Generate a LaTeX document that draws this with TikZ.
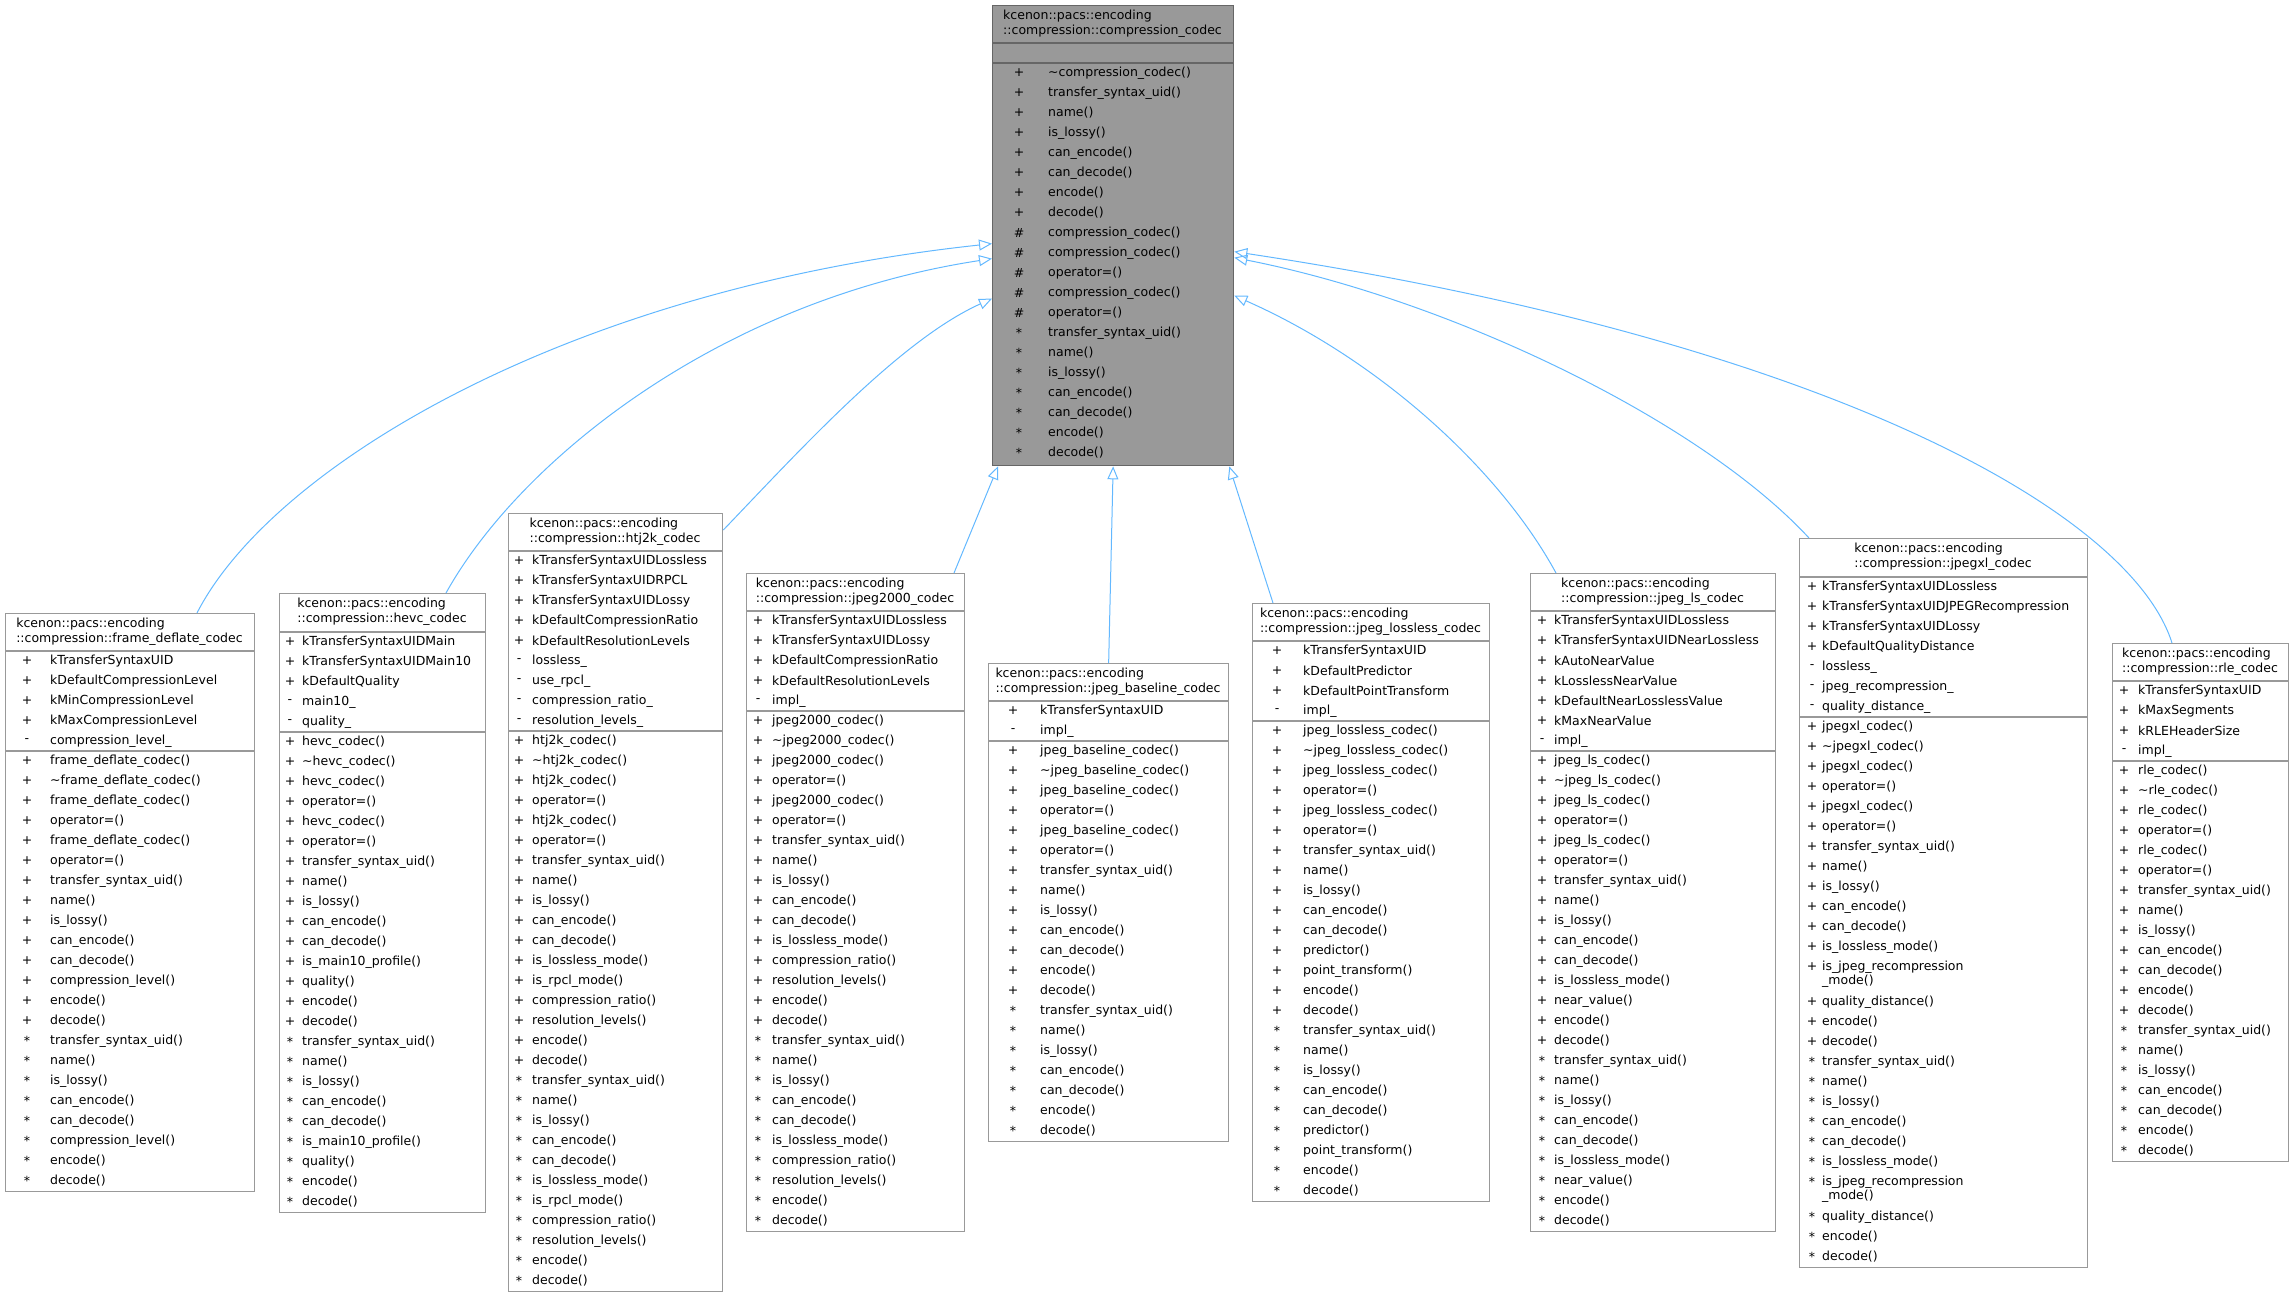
\documentclass[tikz,border=0pt]{standalone}
\usepackage{fontspec}
\setmainfont{DejaVu Sans}
\usepackage{tikz}
\usetikzlibrary{arrows.meta,positioning}

\definecolor{edgeblue}{HTML}{63B8FF}
\definecolor{boxgray}{HTML}{999999}
\newcommand{\tild}{\textasciitilde}
\newcommand{\memberrows}[5]{%
  \foreach[count=\i] \s/\t in {#5}{
    \node[symcell] (#1\i) at ({#2},{#4+\i*20-10}) {\s};
    \node[txtcell] (#1\i t) at ({#3},{#4+\i*20-10}) {\t};
  }}

\tikzset{
  classbox/.style={draw=boxgray, line width=1.3pt, fill=white, anchor=north west, inner sep=0pt},
  basebox/.style={classbox, draw=black!60, fill=boxgray},
  classtitle/.style={align=left, inner sep=0pt, font=\fontsize{12.5}{14.7}\selectfont},
  symcell/.style={inner sep=0pt, font=\fontsize{12.5}{14}\selectfont},
  txtcell/.style={anchor=west, inner sep=0pt, font=\fontsize{12.5}{14}\selectfont},
  sep/.style={draw=boxgray, line width=1.3pt},
  inherit/.style={draw=edgeblue, line width=1pt, -{Triangle[open, length=13pt, width=11pt]}}
}

\begin{document}
\begin{tikzpicture}[x=1pt, y=-1pt]
\useasboundingbox (0,0) rectangle (2292,1299);

% base class
\node[basebox, minimum width=241pt, minimum height=460pt] (base) at (992,5) {};
\node[classtitle] (base-t) at (1112.5,24) {kcenon::pacs::encoding\\::compression::compression\_codec};
\draw[sep, draw=black!60] (992,43) -- (1233,43);
\draw[sep, draw=black!60] (992,63) -- (1233,63);
\memberrows{base-m}{1019}{1048}{63}{+/\tild compression\_codec(), +/transfer\_syntax\_uid(), +/name(), +/is\_lossy(), +/can\_encode(), +/can\_decode(), +/encode(), +/decode(), \#/compression\_codec(), \#/compression\_codec(), \#/operator=(), \#/compression\_codec(), \#/operator=(), */transfer\_syntax\_uid(), */name(), */is\_lossy(), */can\_encode(), */can\_decode(), */encode(), */decode()}

% frame_deflate_codec
\node[classbox, minimum width=249pt, minimum height=578pt] (fd) at (5,613) {};
\node[classtitle] (fd-t) at (129.5,632) {kcenon::pacs::encoding\\::compression::frame\_deflate\_codec};
\draw[sep] (5,651) -- (254,651);
\memberrows{fd-a}{27}{50}{651}{+/kTransferSyntaxUID, +/kDefaultCompressionLevel, +/kMinCompressionLevel, +/kMaxCompressionLevel, -/compression\_level\_}
\draw[sep] (5,751) -- (254,751);
\memberrows{fd-m}{27}{50}{751}{+/frame\_deflate\_codec(), +/\tild frame\_deflate\_codec(), +/frame\_deflate\_codec(), +/operator=(), +/frame\_deflate\_codec(), +/operator=(), +/transfer\_syntax\_uid(), +/name(), +/is\_lossy(), +/can\_encode(), +/can\_decode(), +/compression\_level(), +/encode(), +/decode(), */transfer\_syntax\_uid(), */name(), */is\_lossy(), */can\_encode(), */can\_decode(), */compression\_level(), */encode(), */decode()}

% hevc_codec
\node[classbox, minimum width=206pt, minimum height=619pt] (hevc) at (279,593) {};
\node[classtitle] (hevc-t) at (382,612) {kcenon::pacs::encoding\\::compression::hevc\_codec};
\draw[sep] (279,632) -- (485,632);
\memberrows{hevc-a}{290}{302}{632}{+/kTransferSyntaxUIDMain, +/kTransferSyntaxUIDMain10, +/kDefaultQuality, -/main10\_, -/quality\_}
\draw[sep] (279,732) -- (485,732);
\memberrows{hevc-m}{290}{302}{732}{+/hevc\_codec(), +/\tild hevc\_codec(), +/hevc\_codec(), +/operator=(), +/hevc\_codec(), +/operator=(), +/transfer\_syntax\_uid(), +/name(), +/is\_lossy(), +/can\_encode(), +/can\_decode(), +/is\_main10\_profile(), +/quality(), +/encode(), +/decode(), */transfer\_syntax\_uid(), */name(), */is\_lossy(), */can\_encode(), */can\_decode(), */is\_main10\_profile(), */quality(), */encode(), */decode()}

% htj2k_codec
\node[classbox, minimum width=214pt, minimum height=778pt] (htj) at (508,513) {};
\node[classtitle] (htj-t) at (615,532) {kcenon::pacs::encoding\\::compression::htj2k\_codec};
\draw[sep] (508,551) -- (722,551);
\memberrows{htj-a}{519}{532}{551}{+/kTransferSyntaxUIDLossless, +/kTransferSyntaxUIDRPCL, +/kTransferSyntaxUIDLossy, +/kDefaultCompressionRatio, +/kDefaultResolutionLevels, -/lossless\_, -/use\_rpcl\_, -/compression\_ratio\_, -/resolution\_levels\_}
\draw[sep] (508,731) -- (722,731);
\memberrows{htj-m}{519}{532}{731}{+/htj2k\_codec(), +/\tild htj2k\_codec(), +/htj2k\_codec(), +/operator=(), +/htj2k\_codec(), +/operator=(), +/transfer\_syntax\_uid(), +/name(), +/is\_lossy(), +/can\_encode(), +/can\_decode(), +/is\_lossless\_mode(), +/is\_rpcl\_mode(), +/compression\_ratio(), +/resolution\_levels(), +/encode(), +/decode(), */transfer\_syntax\_uid(), */name(), */is\_lossy(), */can\_encode(), */can\_decode(), */is\_lossless\_mode(), */is\_rpcl\_mode(), */compression\_ratio(), */resolution\_levels(), */encode(), */decode()}

% jpeg2000_codec
\node[classbox, minimum width=218pt, minimum height=658pt] (j2k) at (746,573) {};
\node[classtitle] (j2k-t) at (855,592) {kcenon::pacs::encoding\\::compression::jpeg2000\_codec};
\draw[sep] (746,611) -- (964,611);
\memberrows{j2k-a}{758}{772}{611}{+/kTransferSyntaxUIDLossless, +/kTransferSyntaxUIDLossy, +/kDefaultCompressionRatio, +/kDefaultResolutionLevels, -/impl\_}
\draw[sep] (746,711) -- (964,711);
\memberrows{j2k-m}{758}{772}{711}{+/jpeg2000\_codec(), +/\tild jpeg2000\_codec(), +/jpeg2000\_codec(), +/operator=(), +/jpeg2000\_codec(), +/operator=(), +/transfer\_syntax\_uid(), +/name(), +/is\_lossy(), +/can\_encode(), +/can\_decode(), +/is\_lossless\_mode(), +/compression\_ratio(), +/resolution\_levels(), +/encode(), +/decode(), */transfer\_syntax\_uid(), */name(), */is\_lossy(), */can\_encode(), */can\_decode(), */is\_lossless\_mode(), */compression\_ratio(), */resolution\_levels(), */encode(), */decode()}

% jpeg_baseline_codec
\node[classbox, minimum width=240pt, minimum height=478pt] (jb) at (988,663) {};
\node[classtitle] (jb-t) at (1108,682) {kcenon::pacs::encoding\\::compression::jpeg\_baseline\_codec};
\draw[sep] (988,701) -- (1228,701);
\memberrows{jb-a}{1013}{1040}{701}{+/kTransferSyntaxUID, -/impl\_}
\draw[sep] (988,741) -- (1228,741);
\memberrows{jb-m}{1013}{1040}{741}{+/jpeg\_baseline\_codec(), +/\tild jpeg\_baseline\_codec(), +/jpeg\_baseline\_codec(), +/operator=(), +/jpeg\_baseline\_codec(), +/operator=(), +/transfer\_syntax\_uid(), +/name(), +/is\_lossy(), +/can\_encode(), +/can\_decode(), +/encode(), +/decode(), */transfer\_syntax\_uid(), */name(), */is\_lossy(), */can\_encode(), */can\_decode(), */encode(), */decode()}

% jpeg_lossless_codec
\node[classbox, minimum width=237pt, minimum height=598pt] (jll) at (1252,603) {};
\node[classtitle] (jll-t) at (1370.5,622) {kcenon::pacs::encoding\\::compression::jpeg\_lossless\_codec};
\draw[sep] (1252,641) -- (1489,641);
\memberrows{jll-a}{1277}{1303}{641}{+/kTransferSyntaxUID, +/kDefaultPredictor, +/kDefaultPointTransform, -/impl\_}
\draw[sep] (1252,721) -- (1489,721);
\memberrows{jll-m}{1277}{1303}{721}{+/jpeg\_lossless\_codec(), +/\tild jpeg\_lossless\_codec(), +/jpeg\_lossless\_codec(), +/operator=(), +/jpeg\_lossless\_codec(), +/operator=(), +/transfer\_syntax\_uid(), +/name(), +/is\_lossy(), +/can\_encode(), +/can\_decode(), +/predictor(), +/point\_transform(), +/encode(), +/decode(), */transfer\_syntax\_uid(), */name(), */is\_lossy(), */can\_encode(), */can\_decode(), */predictor(), */point\_transform(), */encode(), */decode()}

% jpeg_ls_codec
\node[classbox, minimum width=245pt, minimum height=658pt] (jls) at (1530,573) {};
\node[classtitle] (jls-t) at (1652.5,592) {kcenon::pacs::encoding\\::compression::jpeg\_ls\_codec};
\draw[sep] (1530,611) -- (1775,611);
\memberrows{jls-a}{1542}{1554}{611}{+/kTransferSyntaxUIDLossless, +/kTransferSyntaxUIDNearLossless, +/kAutoNearValue, +/kLosslessNearValue, +/kDefaultNearLosslessValue, +/kMaxNearValue, -/impl\_}
\draw[sep] (1530,751) -- (1775,751);
\memberrows{jls-m}{1542}{1554}{751}{+/jpeg\_ls\_codec(), +/\tild jpeg\_ls\_codec(), +/jpeg\_ls\_codec(), +/operator=(), +/jpeg\_ls\_codec(), +/operator=(), +/transfer\_syntax\_uid(), +/name(), +/is\_lossy(), +/can\_encode(), +/can\_decode(), +/is\_lossless\_mode(), +/near\_value(), +/encode(), +/decode(), */transfer\_syntax\_uid(), */name(), */is\_lossy(), */can\_encode(), */can\_decode(), */is\_lossless\_mode(), */near\_value(), */encode(), */decode()}

% jpegxl_codec
\node[classbox, minimum width=288pt, minimum height=729pt] (jxl) at (1799,538) {};
\node[classtitle] (jxl-t) at (1943,557) {kcenon::pacs::encoding\\::compression::jpegxl\_codec};
\draw[sep] (1799,577) -- (2087,577);
\memberrows{jxl-a}{1812}{1822}{577}{+/kTransferSyntaxUIDLossless, +/kTransferSyntaxUIDJPEGRecompression, +/kTransferSyntaxUIDLossy, +/kDefaultQualityDistance, -/lossless\_, -/jpeg\_recompression\_, -/quality\_distance\_}
\draw[sep] (1799,717) -- (2087,717);
\memberrows{jxl-m}{1812}{1822}{717}{+/jpegxl\_codec(), +/\tild jpegxl\_codec(), +/jpegxl\_codec(), +/operator=(), +/jpegxl\_codec(), +/operator=(), +/transfer\_syntax\_uid(), +/name(), +/is\_lossy(), +/can\_encode(), +/can\_decode(), +/is\_lossless\_mode()}
\node[symcell] (jxl-w1) at (1812,967) {+};
\node[txtcell] (jxl-w1a) at (1822,967) {is\_jpeg\_recompression};
\node[txtcell] (jxl-w1b) at (1822,981) {\_mode()};
\memberrows{jxl-n}{1812}{1822}{992}{+/quality\_distance(), +/encode(), +/decode(), */transfer\_syntax\_uid(), */name(), */is\_lossy(), */can\_encode(), */can\_decode(), */is\_lossless\_mode()}
\node[symcell] (jxl-w2) at (1812,1182) {*};
\node[txtcell] (jxl-w2a) at (1822,1182) {is\_jpeg\_recompression};
\node[txtcell] (jxl-w2b) at (1822,1196) {\_mode()};
\memberrows{jxl-o}{1812}{1822}{1207}{*/quality\_distance(), */encode(), */decode()}

% rle_codec
\node[classbox, minimum width=176pt, minimum height=518pt] (rle) at (2112,643) {};
\node[classtitle] (rle-t) at (2200,662) {kcenon::pacs::encoding\\::compression::rle\_codec};
\draw[sep] (2112,681) -- (2288,681);
\memberrows{rle-a}{2124}{2138}{681}{+/kTransferSyntaxUID, +/kMaxSegments, +/kRLEHeaderSize, -/impl\_}
\draw[sep] (2112,761) -- (2288,761);
\memberrows{rle-m}{2124}{2138}{761}{+/rle\_codec(), +/\tild rle\_codec(), +/rle\_codec(), +/operator=(), +/rle\_codec(), +/operator=(), +/transfer\_syntax\_uid(), +/name(), +/is\_lossy(), +/can\_encode(), +/can\_decode(), +/encode(), +/decode(), */transfer\_syntax\_uid(), */name(), */is\_lossy(), */can\_encode(), */can\_decode(), */encode(), */decode()}

% inheritance
\draw[inherit] ([xshift=192pt]fd.north west) .. controls (270,470) and (560,290) .. ([yshift=-8pt]base.west);
\draw[inherit] ([xshift=167pt]hevc.north west) .. controls (520,460) and (720,300) .. ([yshift=-23pt]base.west);
\draw[inherit] ([yshift=-17pt]htj.north east) .. controls (800,450) and (900,340) .. ([yshift=-63pt]base.west);
\draw[inherit] ([xshift=208pt]j2k.north west) -- ([xshift=6pt]base.south west);
\draw[inherit] (jb.north) -- (base.south);
\draw[inherit] ([xshift=21pt]jll.north west) -- ([xshift=-5pt]base.south east);
\draw[inherit] ([xshift=26pt]jls.north west) .. controls (1500,470) and (1380,360) .. ([yshift=-60pt]base.east);
\draw[inherit] ([xshift=10pt]jxl.north west) .. controls (1700,420) and (1450,300) .. ([yshift=-22pt]base.east);
\draw[inherit] ([xshift=60pt]rle.north west) .. controls (2130,510) and (1820,340) .. ([yshift=-16pt]base.east);
\end{tikzpicture}
\end{document}
